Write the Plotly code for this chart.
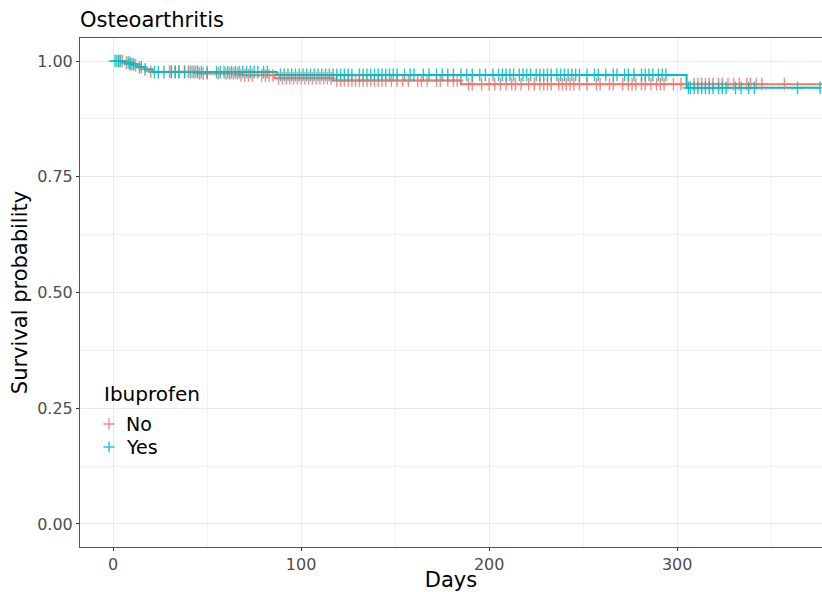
import plotly.graph_objects as go

# Kaplan-Meier step curves: event times (days) and survival after each step
no_times = [0, 7, 11, 14, 17, 20, 45, 68, 86, 117, 185, 377]
no_surv = [1.0, 0.996, 0.991, 0.986, 0.981, 0.977, 0.973, 0.969, 0.963, 0.958, 0.950, 0.950]

yes_times = [0, 5, 9, 13, 17, 21, 87, 305, 376]
yes_surv = [1.0, 0.997, 0.993, 0.987, 0.982, 0.976, 0.970, 0.942, 0.942]

# Censoring times (days)
no_censor = [3, 5, 7, 9, 12, 14, 20, 30, 31, 33, 35, 38, 40, 42, 44, 46, 48, 50, 56, 60,
             62, 64, 66, 68, 70, 72, 74, 79, 81, 83, 85, 88, 90, 92, 94, 96, 98, 100, 102,
             104, 106, 108, 110, 112, 114, 116, 119, 121, 123, 125, 127, 129, 131, 133, 135,
             137, 139, 141, 143, 145, 148, 151, 154, 157, 162, 164, 167, 172, 174, 178, 181,
             183, 189, 191, 196, 200, 203, 206, 209, 212, 214, 217, 221, 224, 227, 229, 231,
             233, 237, 239, 241, 243, 245, 248, 252, 257, 259, 264, 266, 271, 274, 276, 278,
             281, 283, 286, 289, 291, 293, 298, 302, 309, 311, 313, 315, 317, 319, 322, 324,
             327, 330, 333, 337, 339, 342, 345, 357]
yes_censor = [1, 2, 3, 4, 8, 9, 10, 11, 15, 17, 22, 24, 27, 31, 33, 35, 38, 41, 43, 45, 47,
              50, 55, 57, 59, 61, 63, 65, 67, 69, 71, 73, 75, 77, 80, 82, 89, 91, 93, 95, 97,
              99, 101, 103, 105, 107, 109, 111, 113, 115, 117, 119, 121, 123, 125, 127, 131,
              133, 135, 137, 139, 141, 143, 145, 147, 149, 151, 155, 158, 160, 165, 168, 172,
              175, 178, 181, 185, 188, 191, 195, 198, 202, 205, 207, 209, 211, 213, 216, 218,
              220, 222, 225, 227, 229, 231, 233, 236, 238, 240, 242, 244, 246, 248, 252, 256,
              258, 262, 266, 268, 272, 274, 277, 281, 283, 285, 287, 290, 292, 294, 306, 307,
              309, 311, 313, 315, 317, 319, 322, 324, 326, 331, 334, 338, 341, 364, 376]

x_ticks = [0, 100, 200, 300]
y_ticks = [0.0, 0.25, 0.5, 0.75, 1.0]
y_tick_labels = ["0.00", "0.25", "0.50", "0.75", "1.00"]
group_names = ["No", "Yes"]
legend_title = "Ibuprofen"

RED = "#F8766D"
CYAN = "#00BFC4"
FONT = "DejaVu Sans"

W, H = 822, 592
M_L, M_R, M_T, M_B = 80, 0, 38, 45
PW, PH = W - M_L - M_R, H - M_T - M_B


def surv_at(t, times, surv):
    s = surv[0]
    for ti, si in zip(times, surv):
        if ti <= t:
            s = si
        else:
            break
    return s


def px_x(px):
    """Pixel column -> paper x."""
    return (px - M_L) / PW


def px_y(py):
    """Pixel row -> paper y."""
    return (H - M_B - py) / PH


fig = go.Figure()

groups = [(group_names[0], no_times, no_surv, no_censor, RED),
          (group_names[1], yes_times, yes_surv, yes_censor, CYAN)]

for name, times, surv, cens, col in groups:
    fig.add_trace(go.Scatter(
        x=times, y=surv, mode="lines", line=dict(color=col, width=2, shape="hv"),
        showlegend=False, hoverinfo="skip"))

for name, times, surv, cens, col in groups:
    fig.add_trace(go.Scatter(
        x=cens, y=[surv_at(t, times, surv) for t in cens], mode="markers", name=name,
        marker=dict(symbol="cross-thin", size=9, line=dict(color=col, width=1.4), color=col),
        opacity=0.85, showlegend=False))

# Legend drawn by hand: white key box, key symbols on a hidden overlay axis, text labels
fig.add_shape(type="rect", xref="paper", yref="paper", layer="between",
              x0=px_x(96), x1=px_x(212), y0=px_y(463), y1=px_y(374),
              fillcolor="white", line=dict(width=0))

key_rows = [424, 447]
for (name, times, surv, cens, col), row in zip(groups, key_rows):
    fig.add_trace(go.Scatter(
        x=[px_x(109)], y=[px_y(row)], xaxis="x2", yaxis="y2", mode="markers",
        marker=dict(symbol="cross-thin", size=8, line=dict(color=col, width=1.4), color=col),
        opacity=0.85, showlegend=False, hoverinfo="skip"))
    fig.add_annotation(text=name, xref="paper", yref="paper", x=px_x(124), y=px_y(row),
                       xanchor="left", yanchor="middle", showarrow=False,
                       font=dict(size=19, color="black", family=FONT))

fig.add_annotation(text=legend_title, xref="paper", yref="paper", x=px_x(102), y=px_y(394),
                   xanchor="left", yanchor="middle", showarrow=False,
                   font=dict(size=20, color="black", family=FONT))

grid = "#ebebeb"
fig.update_layout(
    width=W, height=H,
    paper_bgcolor="white", plot_bgcolor="white",
    margin=dict(l=M_L, r=M_R, t=M_T, b=M_B),
    font=dict(family=FONT, color="#000000"),
    title=dict(text="Osteoarthritis", x=M_L / W, xanchor="left", xref="container",
               y=1 - 20 / H, yanchor="middle", yref="container",
               font=dict(size=21, color="black", family=FONT)),
    xaxis=dict(range=[-17.6, 377], tickvals=x_ticks, ticktext=[str(v) for v in x_ticks],
               showgrid=True, gridcolor=grid, gridwidth=1,
               minor=dict(tickvals=[50, 150, 250, 350], showgrid=True, gridcolor="#f2f2f2", gridwidth=1),
               zeroline=False, showline=True, linecolor="#555555", linewidth=1, mirror=True,
               ticks="outside", ticklen=3, tickcolor="#333333",
               tickfont=dict(size=16, color="#4d4d4d"),
               title=dict(text="Days", font=dict(size=21, color="black"), standoff=2)),
    yaxis=dict(range=[-0.0497, 1.0497], tickvals=y_ticks, ticktext=y_tick_labels,
               showgrid=True, gridcolor=grid, gridwidth=1,
               minor=dict(tickvals=[0.125, 0.375, 0.625, 0.875], showgrid=True, gridcolor="#f2f2f2", gridwidth=1),
               zeroline=False, showline=True, linecolor="#555555", linewidth=1, mirror=True,
               ticks="outside", ticklen=3, tickcolor="#333333",
               tickfont=dict(size=16, color="#4d4d4d"),
               title=dict(text="Survival probability", font=dict(size=21, color="black"), standoff=3)),
    xaxis2=dict(overlaying="x", range=[0, 1], visible=False, fixedrange=True),
    yaxis2=dict(overlaying="y", range=[0, 1], visible=False, fixedrange=True),
    showlegend=False,
)

fig.write_html("out.html")
